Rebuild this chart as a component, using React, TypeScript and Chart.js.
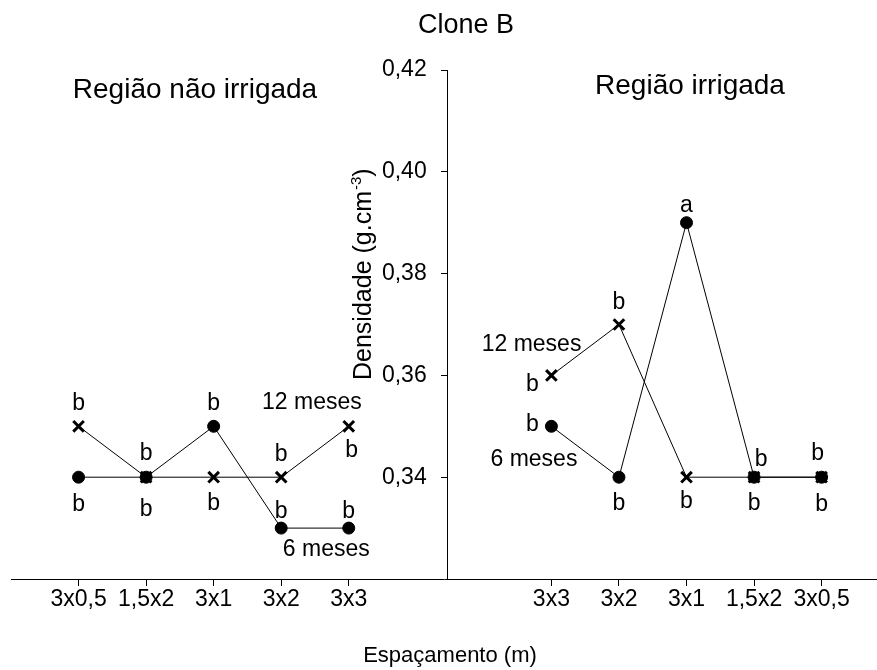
import React, { useEffect, useRef } from 'react';
import { Chart, registerables } from 'chart.js';

Chart.register(...registerables);

// ---------- data ----------
const leftCategories = ['3x0,5', '1,5x2', '3x1', '3x2', '3x3'];
const rightCategories = ['3x3', '3x2', '3x1', '1,5x2', '3x0,5'];
const leftPositions = [1, 2, 3, 4, 5];
const rightPositions = [8, 9, 10, 11, 12];

const left6 = [0.34, 0.34, 0.35, 0.33, 0.33];
const left12 = [0.35, 0.34, 0.34, 0.34, 0.35];
const right6 = [0.35, 0.34, 0.39, 0.34, 0.34];
const right12 = [0.36, 0.37, 0.34, 0.34, 0.34];

const left6Letters = ['b', 'b', 'b', 'b', 'b'];
const left12Letters = ['b', 'b', 'b', 'b', 'b'];
const right6Letters = ['b', 'b', 'a', 'b', 'b'];
const right12Letters = ['b', 'b', 'b', 'b', 'b'];

const yTickValues = [0.32, 0.34, 0.36, 0.38, 0.4, 0.42];

const series6Name = '6 meses';
const series12Name = '12 meses';

// ---------- layout of annotations (pixel offsets from points) ----------
const left6Off = [[0, 34], [0, 39], [0, -16], [0, -10], [0, -10]];
const left12Off = [[0, -16], [0, -17], [0, 33], [0, -16], [3, 31]];
const right6Off = [[-19, 5], [0, 33], [0, -11], [0, 33], [0, 34]];
const right12Off = [[-19, 16], [0, -16], [0, 31], [7, -11], [-4, -17]];

const FONT = '"Liberation Sans", Arial, sans-serif';

const toPts = (xs: number[], ys: number[]) => xs.map((x, i) => ({ x, y: ys[i] }));

// the centred y axis steals a few pixels on the right; give them back to the x axis
const stretchPlugin = {
  id: 'stretchX',
  afterLayout(chart: any) {
    const xs = chart.scales.x;
    const target = chart.width;
    if (xs.right < target) {
      xs.right = target;
      xs.width = xs.right - xs.left;
      xs.configure();
      chart.chartArea.right = target;
      chart.chartArea.width = target - chart.chartArea.left;
    }
  },
};

const annotationPlugin = {
  id: 'annotations',
  afterDraw(chart: any) {
    const ctx = chart.ctx as CanvasRenderingContext2D;
    const xs = chart.scales.x;
    const ys = chart.scales.y;
    ctx.save();
    ctx.fillStyle = '#000';
    ctx.textBaseline = 'alphabetic';

    const letters = (pos: number[], vals: number[], lets: string[], offs: number[][]) => {
      ctx.font = `23px ${FONT}`;
      ctx.textAlign = 'center';
      pos.forEach((p, i) => {
        const px = xs.getPixelForValue(p) + offs[i][0];
        const py = ys.getPixelForValue(vals[i]) + offs[i][1];
        ctx.fillText(lets[i], px, py);
      });
    };
    letters(leftPositions, left6, left6Letters, left6Off);
    letters(leftPositions, left12, left12Letters, left12Off);
    letters(rightPositions, right6, right6Letters, right6Off);
    letters(rightPositions, right12, right12Letters, right12Off);

    // series names
    ctx.font = `23px ${FONT}`;
    ctx.textAlign = 'right';
    ctx.fillText(series12Name, xs.getPixelForValue(leftPositions[4]) + 13, ys.getPixelForValue(left12[4]) - 17);
    ctx.fillText(series6Name, xs.getPixelForValue(leftPositions[4]) + 21, ys.getPixelForValue(left6[4]) + 28);
    ctx.fillText(series12Name, xs.getPixelForValue(rightPositions[0]) + 30, ys.getPixelForValue(right12[0]) - 24);
    ctx.fillText(series6Name, xs.getPixelForValue(rightPositions[0]) + 26, ys.getPixelForValue(right6[0]) + 40);

    // titles
    ctx.textAlign = 'center';
    ctx.font = `27px ${FONT}`;
    ctx.fillText('Clone B', 466, 33);
    ctx.font = `28px ${FONT}`;
    ctx.fillText('Região não irrigada', 195, 98);
    ctx.fillText('Região irrigada', 690, 94);
    ctx.font = `22px ${FONT}`;
    ctx.fillText('Espaçamento (m)', 450, 662);

    // y title rotated with superscript
    ctx.save();
    ctx.translate(371, 380);
    ctx.rotate(-Math.PI / 2);
    ctx.textAlign = 'left';
    ctx.font = `25px ${FONT}`;
    const main = 'Densidade (g.cm';
    ctx.fillText(main, 0, 0);
    let w = ctx.measureText(main).width;
    ctx.font = `15px ${FONT}`;
    ctx.fillText('-3', w + 1, -10);
    w += ctx.measureText('-3').width + 1;
    ctx.font = `25px ${FONT}`;
    ctx.fillText(')', w, 0);
    ctx.restore();

    ctx.restore();
  },
};

export default function App() {
  const ref = useRef<HTMLCanvasElement | null>(null);

  useEffect(() => {
    if (!ref.current) return;
    const allPositions = [...leftPositions, ...rightPositions];
    const allLabels = [...leftCategories, ...rightCategories];

    const lineStyle = { borderColor: '#000', borderWidth: 1, showLine: true, fill: false, tension: 0 };
    const circle = {
      ...lineStyle,
      pointStyle: 'circle',
      pointRadius: 6,
      pointBackgroundColor: '#000',
      pointBorderColor: '#000',
      pointBorderWidth: 1,
    };
    const cross = {
      ...lineStyle,
      pointStyle: 'crossRot',
      pointRadius: 7.5,
      pointBorderColor: '#000',
      pointBackgroundColor: '#000',
      pointBorderWidth: 3,
    };

    const chart = new Chart(ref.current, {
      type: 'line',
      data: {
        datasets: [
          { label: series6Name, data: toPts(leftPositions, left6), ...circle } as any,
          { label: series12Name, data: toPts(leftPositions, left12), ...cross } as any,
          { label: series6Name, data: toPts(rightPositions, right6), ...circle } as any,
          { label: series12Name, data: toPts(rightPositions, right12), ...cross } as any,
        ],
      },
      options: {
        responsive: false,
        maintainAspectRatio: false,
        devicePixelRatio: 1,
        animation: false,
        layout: { padding: { top: 70, left: 11, right: 0, bottom: 0 } },
        plugins: { legend: { display: false }, tooltip: { enabled: false }, title: { display: false } },
        scales: {
          x: {
            type: 'linear',
            position: 'bottom',
            min: 0,
            max: 12.82,
            afterFit: (scale: any) => {
              scale.height = 91;
              scale.paddingLeft = 0;
              scale.paddingRight = 0;
            },
            afterBuildTicks: (scale: any) => {
              scale.ticks = allPositions.map((v) => ({ value: v }));
            },
            grid: { display: true, drawOnChartArea: false, tickLength: 7, color: '#000', lineWidth: 1 },
            border: { display: true, color: '#000', width: 1 },
            ticks: {
              autoSkip: false,
              maxRotation: 0,
              padding: 0,
              color: '#000',
              font: { family: FONT, size: 23 },
              callback: (value: any) => {
                const i = allPositions.indexOf(Number(value));
                return i >= 0 ? allLabels[i] : '';
              },
            },
          },
          y: {
            type: 'linear',
            position: { x: 6.46 } as any,
            min: 0.32,
            max: 0.42,
            afterBuildTicks: (scale: any) => {
              scale.ticks = yTickValues.map((v) => ({ value: v }));
            },
            grid: { display: true, drawOnChartArea: false, tickLength: 6, color: '#000', lineWidth: 1 },
            border: { display: true, color: '#000', width: 1 },
            ticks: {
              padding: 14,
              color: '#000',
              font: { family: FONT, size: 23 },
              callback: (value: any) => {
                const v = Math.round(Number(value) * 100);
                if (v === 32) return null as any;
                // trailing spaces keep the label clear of the tick mark
                return (v / 100).toFixed(2).replace('.', ',') + '\u2002\u2009\u2009';
              },
            },
          },
        },
      } as any,
      plugins: [stretchPlugin, annotationPlugin],
    });
    return () => chart.destroy();
  }, []);

  return (
    <div style={{ position: 'absolute', left: 0, top: 0, width: 877, height: 670, background: '#fff' }}>
      <canvas ref={ref} width={877} height={670} style={{ display: 'block', width: 877, height: 670 }} />
    </div>
  );
}
